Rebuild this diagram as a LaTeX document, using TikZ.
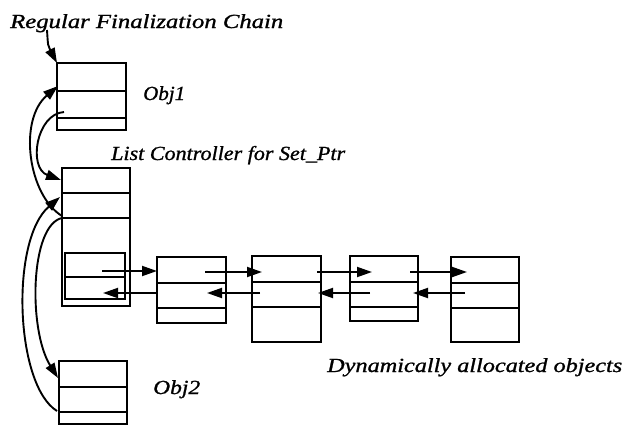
\documentclass[tikz,border=0pt]{standalone}
\usepackage{fontspec}
\setmainfont{Liberation Serif}[ItalicFeatures={FakeBold=1}]
\usepackage{graphicx}
\usetikzlibrary{arrows.meta,calc}
\tikzset{
  box/.style={draw, line width=2.3pt, inner sep=0pt, outer sep=0pt, anchor=north west},
  divline/.style={line width=2.3pt},
  link/.style={line width=1.9pt, -{Triangle[length=15pt,width=10pt]}},
  lbl/.style={anchor=base west, inner sep=0pt, font=\fontsize{20}{24}\selectfont\itshape},
}
\newcommand{\wfit}[2]{\resizebox{#1}{\height}{#2}}
\begin{document}
\begin{tikzpicture}[x=1pt,y=-1pt]
\useasboundingbox (0,0) rectangle (624,426);

% labels
\node[lbl] (title) at (10,28) {\wfit{273pt}{Regular Finalization Chain}};
\node[lbl] (lobj1) at (143,100) {\wfit{42pt}{Obj1}};
\node[lbl] (lctrl) at (111,160) {\wfit{234pt}{List Controller for Set\_Ptr}};
\node[lbl] (lobj2) at (153,394) {\wfit{47pt}{Obj2}};
\node[lbl] (ldyn) at (327,372) {\wfit{295pt}{Dynamically allocated objects}};

% boxes
\node[box, minimum width=69pt, minimum height=67pt] (obj1) at (57,63) {};
\draw[divline] (obj1.west |- 0,91) -- (obj1.east |- 0,91);
\draw[divline] (obj1.west |- 0,118) -- (obj1.east |- 0,118);

\node[box, minimum width=68pt, minimum height=138pt] (ctrl) at (62,168) {};
\draw[divline] (ctrl.west |- 0,193) -- (ctrl.east |- 0,193);
\draw[divline] (ctrl.west |- 0,218) -- (ctrl.east |- 0,218);
\node[box, minimum width=60pt, minimum height=46pt] (inner) at (65,253) {};
\draw[divline] (inner.west |- 0,277) -- (inner.east |- 0,277);

\node[box, minimum width=69pt, minimum height=66pt] (A) at (157,257) {};
\draw[divline] (A.west |- 0,283) -- (A.east |- 0,283);
\draw[divline] (A.west |- 0,308) -- (A.east |- 0,308);

\node[box, minimum width=69pt, minimum height=86pt] (B) at (252,256) {};
\draw[divline] (B.west |- 0,282) -- (B.east |- 0,282);
\draw[divline] (B.west |- 0,307) -- (B.east |- 0,307);

\node[box, minimum width=68pt, minimum height=65pt] (C) at (350,256) {};
\draw[divline] (C.west |- 0,282) -- (C.east |- 0,282);
\draw[divline] (C.west |- 0,307) -- (C.east |- 0,307);

\node[box, minimum width=68pt, minimum height=85pt] (D) at (451,257) {};
\draw[divline] (D.west |- 0,283) -- (D.east |- 0,283);
\draw[divline] (D.west |- 0,308) -- (D.east |- 0,308);

\node[box, minimum width=68pt, minimum height=63pt] (obj2) at (59,361) {};
\draw[divline] (obj2.west |- 0,387) -- (obj2.east |- 0,387);
\draw[divline] (obj2.west |- 0,412) -- (obj2.east |- 0,412);

% coordinates of link ends
\coordinate (t0) at (47,30);
\coordinate (f0) at (102,271);
\coordinate (f1s) at (205,272); \coordinate (f1e) at (262,272);
\coordinate (f2s) at (317,272); \coordinate (f2e) at (372,272);
\coordinate (f3s) at (410,272); \coordinate (f3e) at (467,272);
\coordinate (b3s) at (465,293); \coordinate (b3e) at (413,293);
\coordinate (b2s) at (370,293); \coordinate (b2e) at (318,293);
\coordinate (b1s) at (260,293); \coordinate (b1e) at (207,293);
\coordinate (b0e) at (103,293);
\coordinate (c1s) at (62,216);  \coordinate (c1e) at (58,86);
\coordinate (c2s) at (64,112);  \coordinate (c2e) at (61,180);
\coordinate (c3s) at (57,411);  \coordinate (c3e) at (60,197);
\coordinate (c4s) at (62,218);  \coordinate (c4e) at (58,378);

% title arrow
\draw[link] (t0) .. controls (48,46) .. (obj1.north west);

% forward / backward links
\draw[link] (f0) -- (A.west |- f0);
\draw[link] (f1s) -- (f1e);
\draw[link] (f2s) -- (f2e);
\draw[link] (f3s) -- (f3e);
\draw[link] (b3s) -- (b3e);
\draw[link] (b2s) -- (b2e);
\draw[link] (b1s) -- (b1e);
\draw[link] (A.west |- b0e) -- (b0e);

% finalization chain curves
\draw[link] (c1s) .. controls (28,195) and (18,120) .. (c1e);
\draw[link] (c2s) .. controls (36,114) and (28,168) .. (c2e);
\draw[link] (c3s) .. controls (15,385) and (10,240) .. (c3e);
\draw[link] (c4s) .. controls (30,225) and (28,330) .. (c4e);
\end{tikzpicture}
\end{document}
